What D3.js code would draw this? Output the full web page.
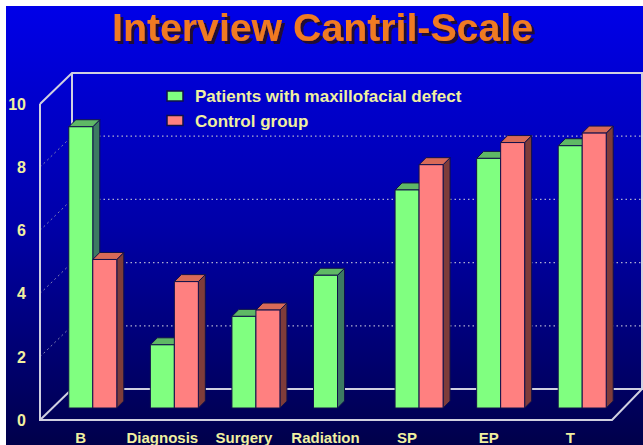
<!DOCTYPE html>
<html><head><meta charset="utf-8">
<script src="https://cdn.jsdelivr.net/npm/d3@7"></script>
<style>body{margin:0;background:#fff;}svg{display:block;}</style>
</head><body>
<svg id="c" width="643" height="445"></svg>
<script>
const title = "Interview Cantril-Scale";
const categories = ["B", "Diagnosis", "Surgery", "Radiation", "SP", "EP", "T"];
const seriesNames = ["Patients with maxillofacial defect", "Control group"];
const patients = [8.9, 2.0, 2.9, 4.2, 6.9, 7.9, 8.3];
const control = [4.7, 4.0, 3.1, null, 7.7, 8.4, 8.7];
const yTicks = [0, 2, 4, 6, 8, 10];

const svg = d3.select("#c");
const defs = svg.append("defs");
const grad = defs.append("linearGradient").attr("id","bg").attr("x1",0).attr("y1",0).attr("x2",0).attr("y2",1);
grad.append("stop").attr("offset","0%").attr("stop-color","#0000e8");
grad.append("stop").attr("offset","50%").attr("stop-color","#0000a8");
grad.append("stop").attr("offset","100%").attr("stop-color","#00004a");
const sh = defs.append("filter").attr("id","shadow").attr("x","-5%").attr("y","-20%").attr("width","115%").attr("height","150%");
sh.append("feDropShadow").attr("dx",3).attr("dy",3).attr("stdDeviation",0.6)
  .attr("flood-color","#20102c").attr("flood-opacity",0.95);
svg.append("rect").attr("x",6).attr("y",6).attr("width",637).attr("height",439).attr("fill","url(#bg)");

const x = d3.scaleBand().domain(categories).range([40, 611]).paddingInner(0).paddingOuter(0);
const y = d3.scaleLinear().domain([0, 10]).range([420, 104]);
const D = {dx: 32, dy: -31};    // full depth of box
const B = {dx: 12, dy: -12};    // bar front plane offset
const bd = 7;                   // bar depth
const bw = 24;                  // bar width
const lineCol = "#d0d0e0";

// back wall gridlines (dotted)
svg.append("g").selectAll("line").data(yTicks.filter(t => t > 0 && t < 10)).join("line")
  .attr("x1", 40 + D.dx).attr("x2", 642)
  .attr("y1", d => y(d) + D.dy).attr("y2", d => y(d) + D.dy)
  .attr("stroke", "#b0b0d0").attr("stroke-width", 1.2).attr("stroke-dasharray", "1.5,3");
// side wall gridlines (dashed diagonal)
svg.append("g").selectAll("line").data(yTicks.filter(t => t > 0 && t < 10)).join("line")
  .attr("x1", 40).attr("x2", 40 + D.dx)
  .attr("y1", d => y(d)).attr("y2", d => y(d) + D.dy)
  .attr("stroke", "#8080b0").attr("stroke-width", 1).attr("stroke-dasharray", "2,3");

// frame lines
const frame = svg.append("g").attr("stroke", lineCol).attr("stroke-width", 2).attr("fill", "none");
const y0 = y(0), y10 = y(10);
frame.append("path").attr("d", `M40,${y10}L40,${y0}L612,${y0}L642,${y0 + D.dy}`);
frame.append("path").attr("d", `M40,${y10}L${40 + D.dx},${y10 + D.dy}L642,${y10 + D.dy}L642,${y0 + D.dy}L${40 + D.dx},${y0 + D.dy}L${40 + D.dx},${y10 + D.dy}`);
frame.append("path").attr("d", `M40,${y0}L${40 + D.dx},${y0 + D.dy}`);

// bars
const styles = [
  {front: "#80ff80", top: "#5fb865", side: "#3c7a62"},
  {front: "#ff8080", top: "#d86a58", side: "#7e3c3a"}
];
const barsG = svg.append("g").attr("stroke", "#10104a").attr("stroke-width", 1).attr("stroke-linejoin", "round");
const barData = [];
categories.forEach((c, i) => {
  [patients[i], control[i]].forEach((v, s) => {
    if (v == null) return;
    barData.push({c, v, s});
  });
});
barData.forEach(d => {
  const cx = x(d.c) + x.bandwidth() / 2 + B.dx;
  const x0 = d.s === 0 ? cx - bw : cx;
  const yt = y(d.v) + B.dy, yb = y(0) + B.dy;
  const st = styles[d.s];
  const g = barsG.append("g");
  g.append("polygon").attr("fill", st.side)
    .attr("points", [[x0 + bw, yt], [x0 + bw + bd, yt - bd], [x0 + bw + bd, yb - bd], [x0 + bw, yb]].join(" "));
  g.append("polygon").attr("fill", st.top)
    .attr("points", [[x0, yt], [x0 + bd, yt - bd], [x0 + bw + bd, yt - bd], [x0 + bw, yt]].join(" "));
  g.append("rect").attr("fill", st.front).attr("x", x0).attr("y", yt).attr("width", bw).attr("height", yb - yt);
});

const txtCol = "#f0f0a0";
const font = "'Liberation Sans', Arial, sans-serif";
// y axis labels
svg.append("g").selectAll("text").data(yTicks).join("text")
  .attr("x", 26).attr("y", d => y(d)).attr("dy", "0.36em")
  .attr("text-anchor", "end").attr("fill", txtCol)
  .attr("font-family", font).attr("font-weight", "bold").attr("font-size", 16)
  .text(d => d);
// x axis labels
svg.append("g").selectAll("text").data(categories).join("text")
  .attr("x", d => x(d) + x.bandwidth() / 2).attr("y", 443)
  .attr("text-anchor", "middle").attr("fill", txtCol)
  .attr("font-family", font).attr("font-weight", "bold").attr("font-size", 15)
  .text(d => d);

// legend
const leg = svg.append("g");
seriesNames.forEach((n, i) => {
  const ly = 96 + i * 24.5;
  leg.append("rect").attr("x", 167).attr("y", ly - 5).attr("width", 16).attr("height", 10)
    .attr("fill", styles[i].front).attr("stroke", "#10104a").attr("stroke-width", 1.5);
  leg.append("text").attr("x", 195).attr("y", ly).attr("dy", "0.36em")
    .attr("fill", txtCol).attr("font-family", font).attr("font-weight", "bold").attr("font-size", 17)
    .text(n);
});

// title
svg.append("text").attr("x", 322.5).attr("y", 41)
  .attr("font-family", font).attr("font-weight", "bold").attr("font-size", 39.5)
  .attr("text-anchor", "middle").attr("fill", "#f07a20").attr("filter", "url(#shadow)")
  .attr("textLength", 421).attr("lengthAdjust", "spacingAndGlyphs").text(title);
</script>
</body></html>
